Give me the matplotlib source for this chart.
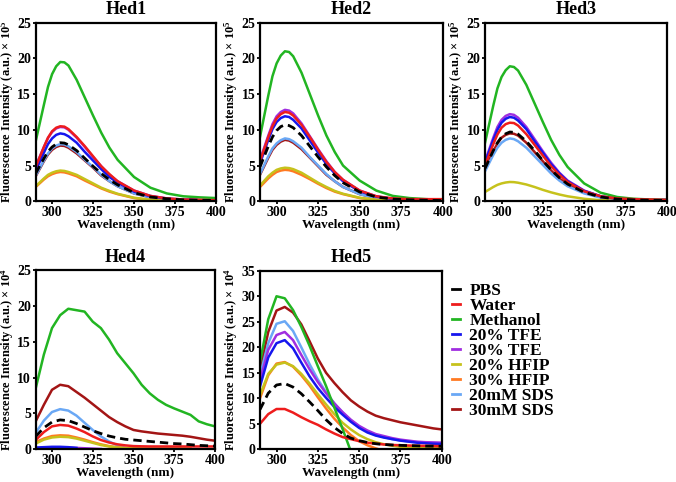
import numpy as np
import matplotlib.pyplot as plt
from matplotlib.lines import Line2D

plt.rcParams['font.family'] = ['Liberation Serif', 'DejaVu Serif']
plt.rcParams['font.weight'] = 'bold'
plt.rcParams['mathtext.fontset'] = 'custom'
plt.rcParams['mathtext.rm'] = 'Liberation Serif:bold'
plt.rcParams['mathtext.bf'] = 'Liberation Serif:bold'
plt.rcParams['mathtext.default'] = 'bf'

nan = np.nan

labels = ['PBS', 'Water', 'Methanol', '20% TFE', '30% TFE',
          '20% HFIP', '30% HFIP', '20mM SDS', '30mM SDS']
colors = ['black', '#ee1c1c', '#22b522', '#1616ee', '#a02ee0',
          '#c6c21c', '#ff7a22', '#6aa8f5', '#a31515']

# wavelength grids (nm)
wl_a = [290, 295, 297.5, 300, 302.5, 305, 307.5, 310, 315, 320, 325, 330, 335, 340,
        350, 360, 370, 380, 390, 400]
wl_b = [290, 295, 300, 305, 310, 315, 320, 325, 330, 335, 340, 345, 350, 355,
        360, 365, 370, 375, 380, 385, 390, 395, 400]

# Hed1 (x 10^5)
hed1_pbs = [3.9, 6.0, 6.95, 7.6, 8.0, 8.2, 8.15, 7.9, 7.1, 6.0, 4.9, 3.9, 3.0, 2.3, 1.2, 0.6, 0.35, 0.2, 0.15, 0.1]
hed1_water = [4.8, 7.6, 8.9, 9.8, 10.3, 10.5, 10.45, 10.1, 9.0, 7.7, 6.3, 4.9, 3.8, 2.8, 1.5, 0.75, 0.4, 0.25, 0.2, 0.15]
hed1_meoh = [8.4, 13.5, 16.0, 17.8, 18.9, 19.5, 19.45, 19.0, 17.0, 14.5, 12.0, 9.6, 7.5, 5.8, 3.4, 1.9, 1.1, 0.7, 0.55, 0.45]
hed1_tfe20 = [4.3, 6.8, 8.0, 8.8, 9.3, 9.5, 9.4, 9.1, 8.2, 6.9, 5.7, 4.5, 3.4, 2.6, 1.35, 0.7, 0.35, 0.2, 0.15, 0.1]
hed1_tfe30 = [4.9, 7.6, 8.85, 9.7, 10.2, 10.4, 10.35, 10.0, 8.9, 7.6, 6.2, 4.9, 3.7, 2.8, 1.5, 0.75, 0.4, 0.25, 0.2, 0.15]
hed1_hfip20 = [2.1, 3.2, 3.7, 4.0, 4.2, 4.3, 4.25, 4.1, 3.7, 3.1, 2.5, 1.9, 1.45, 1.05, 0.5, 0.2, 0.1, 0.05, 0.03, 0.02]
hed1_hfip30 = [2.0, 3.05, 3.5, 3.8, 4.0, 4.1, 4.05, 3.9, 3.5, 2.9, 2.35, 1.8, 1.35, 1.0, 0.45, 0.2, 0.1, 0.05, 0.03, 0.02]
hed1_sds20 = [3.6, 5.7, 6.7, 7.4, 7.8, 8.0, 7.95, 7.7, 6.9, 5.8, 4.8, 3.7, 2.8, 2.1, 1.1, 0.55, 0.3, 0.2, 0.15, 0.1]
hed1_sds30 = [3.5, 5.6, 6.55, 7.2, 7.6, 7.8, 7.75, 7.5, 6.7, 5.7, 4.7, 3.6, 2.8, 2.1, 1.1, 0.55, 0.3, 0.2, 0.15, 0.1]

# Hed2 (x 10^5)
hed2_pbs = [4.8, 7.7, 9.0, 9.9, 10.45, 10.7, 10.6, 10.3, 9.2, 7.7, 6.2, 4.8, 3.6, 2.6, 1.3, 0.6, 0.3, 0.2, 0.15, 0.1]
hed2_water = [5.6, 9.0, 10.5, 11.6, 12.2, 12.5, 12.4, 12.0, 10.7, 9.0, 7.2, 5.5, 4.1, 3.0, 1.5, 0.7, 0.4, 0.3, 0.3, 0.3]
hed2_meoh = [9.0, 14.8, 17.5, 19.3, 20.4, 21.0, 20.9, 20.3, 18.0, 15.0, 12.0, 9.2, 6.9, 5.0, 2.9, 1.5, 0.75, 0.45, 0.3, 0.2]
hed2_tfe20 = [5.3, 8.6, 10.1, 11.1, 11.65, 11.9, 11.8, 11.4, 10.2, 8.5, 6.8, 5.2, 3.9, 2.8, 1.4, 0.65, 0.35, 0.25, 0.2, 0.2]
hed2_tfe30 = [5.8, 9.2, 10.8, 11.9, 12.5, 12.8, 12.7, 12.3, 10.9, 9.1, 7.3, 5.6, 4.1, 3.0, 1.5, 0.7, 0.35, 0.25, 0.2, 0.2]
hed2_hfip20 = [2.2, 3.5, 4.0, 4.4, 4.6, 4.7, 4.65, 4.5, 4.0, 3.3, 2.6, 2.0, 1.45, 1.05, 0.5, 0.2, 0.1, 0.05, 0.03, 0.02]
hed2_hfip30 = [2.0, 3.2, 3.7, 4.1, 4.3, 4.4, 4.35, 4.2, 3.7, 3.1, 2.45, 1.85, 1.35, 1.0, 0.45, 0.2, 0.1, 0.05, 0.03, 0.02]
hed2_sds20 = [3.8, 6.3, 7.4, 8.1, 8.55, 8.8, 8.7, 8.4, 7.5, 6.2, 5.0, 3.8, 2.8, 2.0, 1.0, 0.45, 0.25, 0.15, 0.1, 0.1]
hed2_sds30 = [3.7, 6.1, 7.2, 7.9, 8.35, 8.6, 8.5, 8.2, 7.3, 6.1, 4.9, 3.7, 2.8, 2.0, 1.0, 0.45, 0.25, 0.15, 0.1, 0.1]

# Hed3 (x 10^5), no 30% HFIP trace
hed3_pbs = [4.6, 7.1, 8.2, 9.0, 9.45, 9.7, 9.65, 9.4, 8.4, 7.1, 5.7, 4.4, 3.3, 2.4, 1.25, 0.6, 0.3, 0.2, 0.15, 0.1]
hed3_water = [5.0, 8.0, 9.35, 10.3, 10.8, 11.0, 10.95, 10.6, 9.4, 7.9, 6.4, 4.9, 3.7, 2.7, 1.4, 0.7, 0.4, 0.3, 0.25, 0.2]
hed3_meoh = [8.2, 13.4, 15.8, 17.4, 18.35, 18.9, 18.8, 18.3, 16.3, 13.7, 11.1, 8.6, 6.5, 4.8, 2.5, 1.2, 0.6, 0.35, 0.25, 0.2]
hed3_tfe20 = [5.4, 8.6, 10.0, 11.0, 11.55, 11.8, 11.7, 11.3, 10.1, 8.4, 6.8, 5.2, 3.9, 2.8, 1.45, 0.7, 0.35, 0.25, 0.2, 0.2]
hed3_tfe30 = [5.6, 8.9, 10.4, 11.4, 11.95, 12.2, 12.1, 11.7, 10.4, 8.7, 7.0, 5.4, 4.0, 2.9, 1.5, 0.7, 0.35, 0.25, 0.2, 0.2]
hed3_hfip20 = [1.3, 2.0, 2.3, 2.5, 2.63, 2.7, 2.68, 2.6, 2.35, 2.0, 1.6, 1.25, 0.95, 0.7, 0.35, 0.15, 0.08, 0.05, 0.03, 0.02]
hed3_hfip30 = None
hed3_sds20 = [4.2, 6.5, 7.5, 8.2, 8.6, 8.8, 8.7, 8.4, 7.5, 6.3, 5.1, 3.9, 2.9, 2.1, 1.1, 0.5, 0.25, 0.15, 0.1, 0.1]
hed3_sds30 = [4.5, 7.0, 8.1, 8.9, 9.3, 9.5, 9.45, 9.2, 8.2, 6.9, 5.6, 4.3, 3.2, 2.4, 1.2, 0.6, 0.3, 0.2, 0.15, 0.1]

# Hed4 (x 10^4)
hed4_pbs = [1.8, 3.0, 3.8, 4.1, 4.0, 3.6, 3.1, 2.6, 2.2, 1.85, 1.6, 1.4, 1.3, 1.2, 1.1, 1.0,
            0.9, 0.8, 0.75, 0.65, 0.55, 0.5, 0.45]
hed4_water = [1.3, 2.4, 3.2, 3.4, 3.3, 2.9, 2.4, 1.8, 1.3, 0.95, 0.7, 0.55, 0.45, 0.42, 0.4, 0.4,
              0.4, 0.4, 0.4, 0.4, 0.4, 0.4, 0.4]
hed4_meoh = [8.5, 13.2, 16.9, 18.7, 19.6, 19.4, 19.2, 17.8, 16.9, 15.3, 13.4, 12.0, 10.6, 9.0,
             7.8, 6.9, 6.2, 5.7, 5.25, 4.8, 3.9, 3.5, 3.2]
hed4_tfe20 = [0.25, 0.3, 0.35, 0.35, 0.3, 0.2, nan, nan, nan, nan, nan, nan, nan, nan,
              nan, nan, nan, nan, nan, nan, nan, nan, nan]
hed4_tfe30 = [0.15, 0.2, 0.25, 0.25, 0.25, 0.2, 0.15, 0.1, 0.05, nan, nan, nan, nan, nan,
              nan, nan, nan, nan, nan, nan, nan, nan, nan]
hed4_hfip20 = [0.8, 1.35, 1.65, 1.75, 1.7, 1.5, 1.2, 0.9, 0.6, 0.4, 0.25, 0.15, 0.1, 0.08,
               0.07, 0.06, 0.06, 0.05, 0.05, 0.05, nan, nan, nan]
hed4_hfip30 = [1.0, 1.5, 1.85, 1.95, 1.9, 1.65, 1.35, 1.0, 0.7, 0.45, 0.3, 0.2, 0.15, 0.12,
               0.1, 0.1, 0.1, 0.1, 0.1, 0.1, nan, nan, nan]
hed4_sds20 = [2.3, 4.0, 5.2, 5.6, 5.4, 4.7, 3.7, 2.7, 1.8, 1.1, 0.55, 0.2, 0.0, nan,
              nan, nan, nan, nan, nan, nan, nan, nan, nan]
hed4_sds30 = [3.9, 6.2, 8.3, 9.0, 8.8, 8.0, 7.2, 6.3, 5.4, 4.5, 3.8, 3.2, 2.7, 2.5,
              2.35, 2.2, 2.1, 2.0, 1.9, 1.75, 1.55, 1.35, 1.2]

# Hed5 (x 10^4)
hed5_pbs = [7.8, 11.0, 12.6, 12.9, 12.2, 10.9, 9.3, 7.6, 5.8, 4.3, 3.1, 2.2, 1.7, 1.35,
            1.1, 0.95, 0.85, 0.78, 0.72, 0.68, 0.64, 0.62, 0.6]
hed5_water = [5.0, 6.9, 7.9, 7.9, 7.2, 6.3, 5.5, 4.8, 3.9, 3.1, 2.4, 2.0, 1.6, 1.3,
              1.1, 0.95, 0.85, 0.8, 0.75, 0.7, 0.68, 0.65, 0.6]
hed5_meoh = [17.0, 25.5, 30.0, 29.6, 27.3, 24.0, 20.3, 16.3, 12.4, 8.2, 4.0, -0.4, -4.5, nan,
             nan, nan, nan, nan, nan, nan, nan, nan, nan]
hed5_tfe20 = [12.3, 18.0, 20.8, 21.4, 19.8, 17.0, 14.3, 12.0, 10.1, 8.3, 6.8, 5.4, 4.2, 3.3,
              2.7, 2.3, 2.0, 1.7, 1.5, 1.3, 1.2, 1.1, 1.05]
hed5_tfe30 = [13.5, 19.5, 22.4, 23.0, 21.4, 18.5, 15.7, 13.2, 11.0, 9.0, 7.3, 5.8, 4.6, 3.7,
              3.0, 2.6, 2.2, 1.9, 1.7, 1.5, 1.4, 1.35, 1.3]
hed5_hfip20 = [10.6, 14.8, 16.6, 17.0, 16.3, 14.8, 12.9, 10.8, 8.8, 6.9, 5.2, 3.9, 2.8, 2.0,
               1.4, 1.0, 0.7, 0.5, 0.4, 0.35, 0.3, 0.3, 0.3]
hed5_hfip30 = [10.0, 14.5, 16.8, 17.1, 16.2, 14.5, 12.5, 10.2, 8.0, 6.0, 4.3, 2.8, 1.6, 0.8,
               0.2, -0.3, nan, nan, nan, nan, nan, nan, nan]
hed5_sds20 = [14.5, 20.8, 24.6, 25.1, 23.2, 20.0, 16.7, 13.7, 11.2, 9.0, 7.2, 5.7, 4.4, 3.5,
              2.8, 2.4, 2.0, 1.75, 1.55, 1.4, 1.3, 1.25, 1.2]
hed5_sds30 = [15.5, 23.0, 27.2, 27.9, 26.8, 24.5, 21.2, 17.8, 15.0, 13.0, 11.2, 9.6, 8.4, 7.4,
              6.6, 6.1, 5.7, 5.3, 5.0, 4.7, 4.4, 4.1, 3.9]

panels = [
    ('Hed1', wl_a, 5, 25, [hed1_pbs, hed1_water, hed1_meoh, hed1_tfe20, hed1_tfe30,
                           hed1_hfip20, hed1_hfip30, hed1_sds20, hed1_sds30]),
    ('Hed2', wl_a, 5, 25, [hed2_pbs, hed2_water, hed2_meoh, hed2_tfe20, hed2_tfe30,
                           hed2_hfip20, hed2_hfip30, hed2_sds20, hed2_sds30]),
    ('Hed3', wl_a, 5, 25, [hed3_pbs, hed3_water, hed3_meoh, hed3_tfe20, hed3_tfe30,
                           hed3_hfip20, hed3_hfip30, hed3_sds20, hed3_sds30]),
    ('Hed4', wl_b, 4, 25, [hed4_pbs, hed4_water, hed4_meoh, hed4_tfe20, hed4_tfe30,
                           hed4_hfip20, hed4_hfip30, hed4_sds20, hed4_sds30]),
    ('Hed5', wl_b, 4, 35, [hed5_pbs, hed5_water, hed5_meoh, hed5_tfe20, hed5_tfe30,
                           hed5_hfip20, hed5_hfip30, hed5_sds20, hed5_sds30]),
]

# axes boxes in figure fractions
boxes = [
    [0.0528, 0.5824, 0.2667, 0.3705],
    [0.3846, 0.5824, 0.2703, 0.3705],
    [0.7175, 0.5824, 0.2688, 0.3705],
    [0.0528, 0.0678, 0.2652, 0.3720],
    [0.3846, 0.0678, 0.2688, 0.3705],
]

fig = plt.figure(figsize=(6.76, 4.82), dpi=100)

for (name, wl, power, ymax, series), box in zip(panels, boxes):
    ax = fig.add_axes(box)
    # draw in reverse so PBS ends up on top
    for i in range(len(series) - 1, -1, -1):
        y = series[i]
        if y is None:
            continue
        if i == 0:
            ax.plot(wl, y, color=colors[i], lw=2.0, dashes=(3, 1.8))
        else:
            ax.plot(wl, y, color=colors[i], lw=1.8)
    ax.set_xlim(290, 400)
    ax.set_ylim(0, ymax)
    ax.set_xticks([300, 325, 350, 375, 400])
    ax.set_yticks(np.arange(0, ymax + 1, 5))
    ax.tick_params(direction='out', length=2.5, width=1.3, labelsize=10, pad=0.8)
    for s in ax.spines.values():
        s.set_linewidth(1.6)
    ax.set_title(name, fontsize=13, fontweight='bold', pad=6)
    ax.set_xlabel('Wavelength (nm)', fontsize=9.5, fontweight='bold', labelpad=0)
    ax.set_ylabel('Fluorescence Intensity (a.u.) × 10$^{%d}$' % power,
                  fontsize=9, fontweight='bold')
    ax.yaxis.set_label_coords(-0.108, 0.5)

handles = [Line2D([0], [0], color=c, lw=2) for c in colors]
fig.legend(handles, labels, loc='upper left', bbox_to_anchor=(452 / 676, 1 - 283 / 482),
           frameon=False, handlelength=0.45, handletextpad=0.55, labelspacing=-0.07,
           fontsize=12.5, borderpad=0, borderaxespad=0)

fig.savefig('out.png', dpi=100)
